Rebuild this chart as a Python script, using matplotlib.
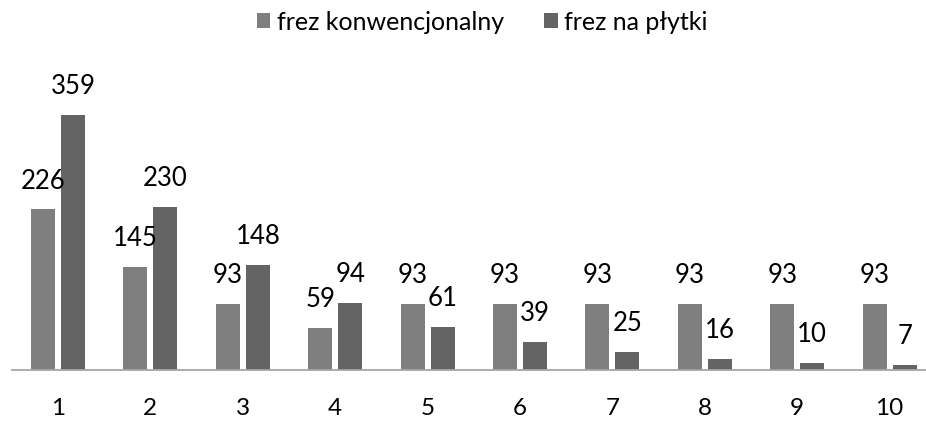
import matplotlib
matplotlib.use("Agg")
import matplotlib.pyplot as plt
import numpy as np

categories = ["1", "2", "3", "4", "5", "6", "7", "8", "9", "10"]
konwencjonalny = [226, 145, 93, 59, 93, 93, 93, 93, 93, 93]
plytki = [359, 230, 148, 94, 61, 39, 25, 16, 10, 7]
series_names = ["frez konwencjonalny", "frez na płytki"]
colors = ["#7f7f7f", "#646464"]

plt.rcParams['font.family'] = ['Lato', 'DejaVu Sans']

W, H = 926, 421
fig = plt.figure(figsize=(W / 100, H / 100), dpi=100)
left_px, right_px, bottom_px, top_px = 11.8, 926, 370, 40
ax = fig.add_axes([left_px / W, (H - bottom_px) / H, (right_px - left_px) / W, (bottom_px - top_px) / H])

x = np.arange(len(categories))
w = 0.26
off = 0.1625
b1 = ax.bar(x - off, konwencjonalny, w, color=colors[0], label=series_names[0])
b2 = ax.bar(x + off, plytki, w, color=colors[1], label=series_names[1])

for bars, vals in ((b1, konwencjonalny), (b2, plytki)):
    for r, v in zip(bars, vals):
        ax.annotate(str(v), (r.get_x() + r.get_width() / 2, r.get_height()),
                    xytext=(0, 15), textcoords="offset points",
                    ha="center", va="baseline", fontsize=18.5, color="black")

cat_w = 92.4
ax.set_xlim(-0.5, -0.5 + (right_px - left_px) / cat_w)
ax.set_ylim(0, (bottom_px - top_px) / (255 / 359))
ax.set_xticks(x)
ax.set_xticklabels(categories, fontsize=17.5)
ax.tick_params(axis='x', length=0, pad=20)
ax.set_yticks([])
for s in ("top", "right", "left"):
    ax.spines[s].set_visible(False)
ax.spines["bottom"].set_color("#a6a6a6")
ax.spines["bottom"].set_linewidth(1.3)

leg = fig.legend(loc="center", bbox_to_anchor=(482 / W, 1 - 22 / H), ncol=2, frameon=False,
                 fontsize=18, handlelength=0.55, handleheight=0.55, handletextpad=0.25,
                 columnspacing=1.6)

fig.savefig("out.png", dpi=100)
